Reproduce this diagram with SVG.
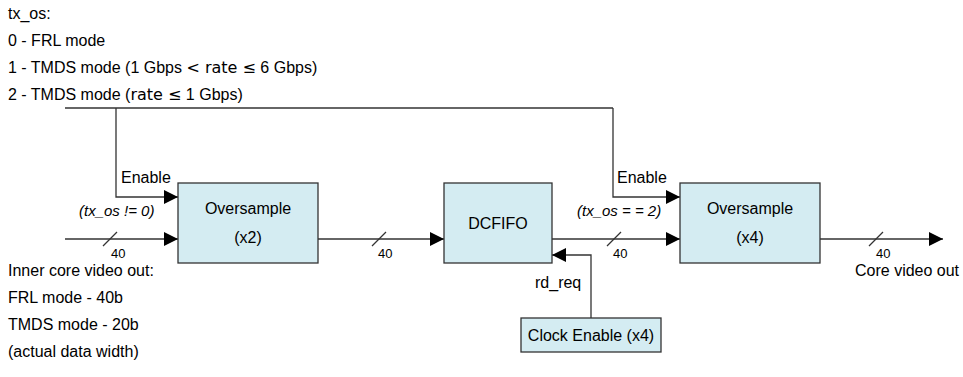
<svg xmlns="http://www.w3.org/2000/svg" width="963" height="377" viewBox="0 0 963 377">
<defs>
<marker id="arr" markerWidth="14" markerHeight="14" refX="14" refY="7" orient="auto" markerUnits="userSpaceOnUse" viewBox="0 0 14 14">
<path d="M0,0 L14,7 L0,14 z" fill="#000"/>
</marker>
<style>
text{font-family:"Liberation Sans",Arial,sans-serif;fill:#000}
.lbl{font-size:16px}
.box{fill:#d4ecf2;stroke:#333;stroke-width:1.3}
.ln{fill:none;stroke:#333;stroke-width:1.3}
.sm{font-size:13px}
.it{font-size:15px;font-style:italic}
.sym{font-family:"DejaVu Sans",sans-serif}
</style>
</defs>
<rect width="963" height="377" fill="#fff"/>
<g id="legend" class="lbl">
<text x="8" y="19">tx_os:</text>
<text x="8" y="46">0 - FRL mode</text>
<text x="8" y="73">1 - TMDS mode (1 Gbps <tspan class="sym">&lt; rate ≤</tspan> 6 Gbps)</text>
<text x="8" y="100">2 - TMDS mode (<tspan class="sym">rate ≤</tspan> 1 Gbps)</text>
</g>
<g id="inner-note" class="lbl">
<text x="8" y="276">Inner core video out:</text>
<text x="8" y="303">FRL mode - 40b</text>
<text x="8" y="330">TMDS mode - 20b</text>
<text x="8" y="357">(actual data width)</text>
</g>
<g id="connectors">
<path class="ln" d="M65,108 H613"/>
<path class="ln" d="M116,108 V197 H178" marker-end="url(#arr)"/>
<path class="ln" d="M613,108 V197 H680" marker-end="url(#arr)"/>
<path class="ln" d="M65,239 H178" marker-end="url(#arr)"/>
<path class="ln" d="M318,239 H444" marker-end="url(#arr)"/>
<path class="ln" d="M552,239 H680" marker-end="url(#arr)"/>
<path class="ln" d="M820,239 H943" marker-end="url(#arr)"/>
<path class="ln" d="M591,318 V255 H552" marker-end="url(#arr)"/>
<path class="ln" d="M103,246 L117,232 M372,246 L386,232 M607,246 L621,232 M869,246 L883,232"/>
<text class="lbl" x="121" y="183">Enable</text>
<text class="lbl" x="617" y="183">Enable</text>
<text class="it" x="79" y="216">(tx_os != 0)</text>
<text class="it" x="577" y="216">(tx_os = = 2)</text>
<text class="sm" x="111" y="258">40</text>
<text class="sm" x="378" y="258">40</text>
<text class="sm" x="613" y="258">40</text>
<text class="sm" x="876" y="258">40</text>
<text class="lbl" x="535" y="288">rd_req</text>
<text class="lbl" x="855" y="276">Core video out</text>
</g>
<g id="os2">
<rect class="box" x="178" y="183" width="140" height="80"/>
<text class="lbl" x="248" y="214" text-anchor="middle">Oversample</text>
<text class="lbl" x="248" y="243" text-anchor="middle">(x2)</text>
</g>
<g id="dcfifo">
<rect class="box" x="444" y="183" width="108" height="80"/>
<text class="lbl" x="498" y="229" text-anchor="middle">DCFIFO</text>
</g>
<g id="os4">
<rect class="box" x="680" y="183" width="140" height="80"/>
<text class="lbl" x="750" y="214" text-anchor="middle">Oversample</text>
<text class="lbl" x="750" y="243" text-anchor="middle">(x4)</text>
</g>
<g id="clken">
<rect class="box" x="521" y="318" width="140" height="34"/>
<text class="lbl" x="591" y="341" text-anchor="middle">Clock Enable (x4)</text>
</g>
</svg>
